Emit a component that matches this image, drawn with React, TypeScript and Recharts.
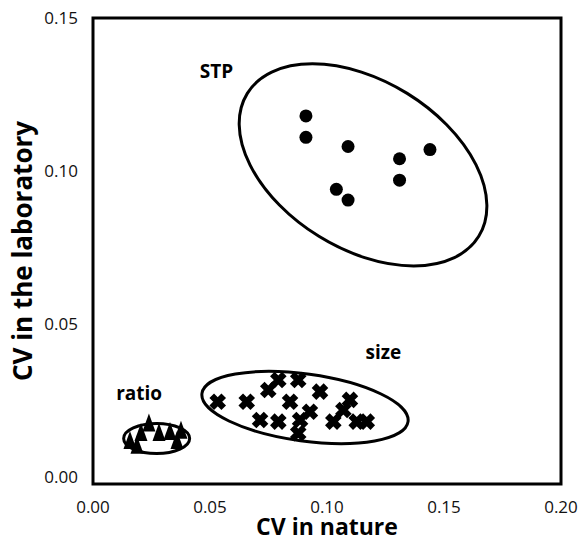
import React from 'react'
import { ScatterChart, Scatter, XAxis, YAxis, ReferenceArea, ReferenceDot } from 'recharts'

// CV in nature (x) vs CV in the laboratory (y)
const stpPoints = [
  { x: 0.091, y: 0.118 },
  { x: 0.091, y: 0.111 },
  { x: 0.109, y: 0.108 },
  { x: 0.131, y: 0.104 },
  { x: 0.144, y: 0.107 },
  { x: 0.131, y: 0.097 },
  { x: 0.104, y: 0.094 },
  { x: 0.109, y: 0.0905 },
]

const sizePoints = [
  { x: 0.0533, y: 0.0246 },
  { x: 0.0657, y: 0.0246 },
  { x: 0.0749, y: 0.0284 },
  { x: 0.0792, y: 0.0317 },
  { x: 0.0877, y: 0.0317 },
  { x: 0.097, y: 0.0279 },
  { x: 0.0842, y: 0.0246 },
  { x: 0.0927, y: 0.0213 },
  { x: 0.0714, y: 0.0186 },
  { x: 0.0792, y: 0.0181 },
  { x: 0.0885, y: 0.0186 },
  { x: 0.0877, y: 0.0143 },
  { x: 0.1098, y: 0.0252 },
  { x: 0.107, y: 0.0219 },
  { x: 0.1027, y: 0.0181 },
  { x: 0.1127, y: 0.0181 },
  { x: 0.117, y: 0.0181 },
]

const ratioPoints = [
  { x: 0.0158, y: 0.0121 },
  { x: 0.0188, y: 0.0105 },
  { x: 0.0205, y: 0.0147 },
  { x: 0.0239, y: 0.0178 },
  { x: 0.0282, y: 0.0147 },
  { x: 0.0329, y: 0.015 },
  { x: 0.0359, y: 0.0121 },
  { x: 0.0376, y: 0.0154 },
]

// group ellipses: centre in data units, outline given in pixels
const groupEllipses = [
  { x: 0.1154, y: 0.102, rx: 136, ry: 84, angle: 31.7 },
  { x: 0.0906, y: 0.0227, rx: 104, ry: 33.5, angle: 7.8 },
  { x: 0.0272, y: 0.0126, rx: 33, ry: 15, angle: 0 },
]

const groupLabels = [
  { x: 0.0528, y: 0.1327, text: 'STP' },
  { x: 0.1241, y: 0.0408, text: 'size' },
  { x: 0.0197, y: 0.0275, text: 'ratio' },
]

const xTicks = [0, 0.05, 0.1, 0.15, 0.2]
const yTicks = [0, 0.05, 0.1, 0.15]
const Y_MIN = -0.0023

const EllipseShape = (props: any) => {
  const { cx, cy, payload } = props
  return (
    <ellipse
      cx={cx}
      cy={cy}
      rx={payload.rx}
      ry={payload.ry}
      transform={`rotate(${payload.angle} ${cx} ${cy})`}
      fill="none"
      stroke="#000"
      strokeWidth={3}
    />
  )
}

const CircleShape = (props: any) => <circle cx={props.cx} cy={props.cy} r={6.5} fill="#000" />

const CrossShape = (props: any) => {
  const { cx, cy } = props
  const d = 6
  return (
    <path
      d={`M${cx - d},${cy - d}L${cx + d},${cy + d}M${cx - d},${cy + d}L${cx + d},${cy - d}`}
      stroke="#000"
      strokeWidth={6.5}
    />
  )
}

const TriangleShape = (props: any) => {
  const { cx, cy } = props
  return <path d={`M${cx},${cy - 9}L${cx + 6.5},${cy + 9}L${cx - 6.5},${cy + 9}Z`} fill="#000" />
}

const tickStyle = { fontSize: 17, fill: '#111' }
const titleStyle = { fontSize: 26, fontWeight: 700, fill: '#000' }

export default function App() {
  return (
    <div style={{ position: 'absolute', left: 0, top: 0, fontFamily: "'Open Sans', sans-serif", background: '#fff' }}>
      <ScatterChart width={581} height={542} margin={{ top: 18, right: 20, bottom: 0, left: 0 }}>
        <XAxis
          type="number"
          dataKey="x"
          domain={[0, 0.2]}
          ticks={xTicks}
          allowDataOverflow
          tickFormatter={(v: number) => v.toFixed(2)}
          tick={tickStyle}
          tickLine={false}
          tickSize={0}
          tickMargin={17}
          axisLine={false}
          height={58}
          label={{ value: 'CV in nature', position: 'insideBottom', offset: 7, style: { ...titleStyle, fontSize: 23 } }}
        />
        <YAxis
          type="number"
          dataKey="y"
          domain={[Y_MIN, 0.15]}
          ticks={yTicks}
          allowDataOverflow
          tickFormatter={(v: number) => v.toFixed(2)}
          tick={tickStyle}
          tickLine={false}
          tickSize={0}
          tickMargin={15}
          axisLine={false}
          width={93}
          label={{
            value: 'CV in the laboratory',
            angle: -90,
            position: 'insideLeft',
            offset: 23,
            style: { ...titleStyle, textAnchor: 'middle' },
          }}
        />
        <ReferenceArea x1={0} x2={0.2} y1={Y_MIN} y2={0.15} fill="none" stroke="#000" strokeWidth={3} fillOpacity={0} />
        <Scatter data={groupEllipses} shape={EllipseShape} isAnimationActive={false} />
        <Scatter data={stpPoints} shape={CircleShape} isAnimationActive={false} />
        <Scatter data={sizePoints} shape={CrossShape} isAnimationActive={false} />
        <Scatter data={ratioPoints} shape={TriangleShape} isAnimationActive={false} />
        {groupLabels.map((l) => (
          <ReferenceDot
            key={l.text}
            x={l.x}
            y={l.y}
            r={0}
            stroke="none"
            fill="none"
            label={{ value: l.text, position: 'center', style: { fontSize: 19, fontWeight: 700, fill: '#000' } }}
          />
        ))}
      </ScatterChart>
    </div>
  )
}
